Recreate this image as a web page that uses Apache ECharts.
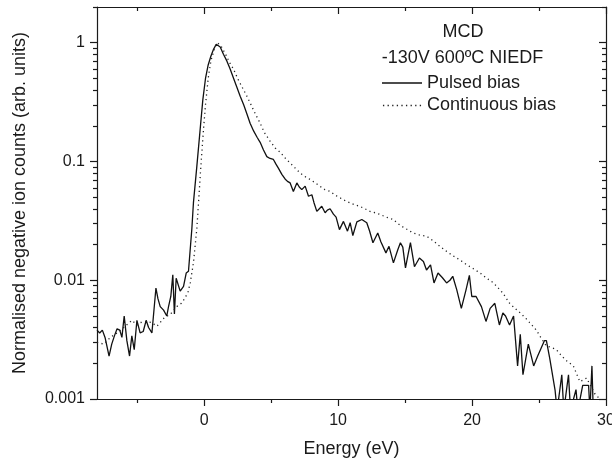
<!DOCTYPE html>
<html><head><meta charset="utf-8">
<script src="https://cdn.jsdelivr.net/npm/echarts@6/dist/echarts.min.js"></script>
<style>html,body{margin:0;padding:0;background:#fff}#c{width:612px;height:460px}</style>
</head><body><div id="c"></div>
<script>
// Pulsed bias (solid)
const pulsedE = [-8.0,-7.8,-7.6,-7.4,-7.1,-6.9,-6.7,-6.5,-6.3,-6.14,-5.97,-5.77,-5.57,-5.4,-5.22,-5.02,-4.78,-4.55,-4.33,-4.15,-3.9,-3.6,-3.45,-3.28,-3.03,-2.79,-2.66,-2.49,-2.34,-2.22,-2.09,-1.79,-1.54,-1.34,-1.17,-0.92,-0.8,-0.55,-0.3,-0.1,0.1,0.3,0.5,0.7,0.9,1.0,1.2,1.44,1.7,1.94,2.2,2.45,2.69,2.95,3.2,3.43,3.7,3.95,4.18,4.43,4.68,4.92,5.17,5.36,5.54,5.8,6.04,6.22,6.42,6.66,6.92,7.1,7.29,7.54,7.79,8.04,8.2,8.41,8.6,8.78,9.03,9.2,9.4,9.65,9.85,10.1,10.4,10.7,10.9,11.1,11.4,11.77,12.14,12.35,12.6,12.96,13.2,13.57,13.8,14.13,14.45,14.65,14.83,15.03,15.2,15.4,15.7,16.07,16.37,16.6,16.9,17.16,17.46,17.79,18.1,18.35,18.56,18.86,19.2,19.55,19.8,19.98,20.3,20.7,21.04,21.35,21.7,22.04,22.3,22.5,22.8,23.1,23.4,23.6,23.8,24.2,24.6,24.9,25.4,25.55,25.8,26.2,26.35,26.7,26.85,27.2,27.35,27.76,27.9,28.26,28.7,28.8,28.95,29.05];
const pulsedV = [0.0038,0.0036,0.0038,0.0033,0.0023,0.0029,0.0034,0.0039,0.0038,0.0033,0.0050,0.0031,0.0023,0.0034,0.0026,0.0046,0.0036,0.0037,0.0046,0.0040,0.0036,0.0086,0.0070,0.0060,0.0056,0.0050,0.0060,0.0073,0.0111,0.0052,0.0104,0.0081,0.0089,0.0115,0.0119,0.027,0.045,0.09,0.186,0.33,0.5,0.65,0.77,0.88,0.97,1.0,0.92,0.80,0.70,0.60,0.50,0.42,0.355,0.30,0.25,0.21,0.18,0.16,0.145,0.125,0.11,0.106,0.104,0.095,0.088,0.078,0.0713,0.068,0.066,0.056,0.066,0.061,0.058,0.062,0.051,0.0525,0.045,0.038,0.040,0.042,0.037,0.039,0.040,0.036,0.034,0.0267,0.0313,0.0259,0.0305,0.0238,0.031,0.0325,0.0305,0.026,0.0207,0.025,0.021,0.017,0.0193,0.014,0.018,0.0207,0.019,0.0127,0.016,0.0207,0.013,0.0154,0.0144,0.0122,0.0135,0.0095,0.0115,0.0105,0.0095,0.0100,0.0108,0.0083,0.0058,0.0083,0.011,0.0073,0.0073,0.0060,0.0045,0.0058,0.0064,0.0042,0.0053,0.0050,0.0042,0.0050,0.0019,0.0035,0.0016,0.0029,0.0019,0.0023,0.0031,0.0031,0.0022,0.00118,0.0008,0.0016,0.0008,0.0016,0.0008,0.0012,0.0008,0.0013,0.0013,0.0008,0.0019,0.0008];
// Continuous bias (dotted)
const contE = [-8.0,-7.5,-7.0,-6.5,-6.0,-5.4,-5.0,-4.78,-4.3,-3.9,-3.53,-3.0,-2.5,-2.04,-1.7,-1.42,-1.2,-1.04,-0.8,-0.55,-0.42,-0.25,-0.05,0.1,0.3,0.5,0.8,1.0,1.3,1.6,1.9,2.19,2.5,2.8,3.19,3.5,3.8,4.18,4.5,4.93,5.3,5.67,6.05,6.42,6.8,7.16,7.5,7.91,8.3,8.66,9.0,9.4,9.8,10.15,10.5,10.9,11.3,11.64,12.0,12.39,12.76,13.13,13.6,14.1,14.63,15.1,15.6,16.1,16.6,17.1,17.6,18.1,18.6,19.1,19.6,20.1,20.6,21.1,21.6,22.0,22.3,22.8,23.2,23.6,24.0,24.3,24.8,25.2,25.55,26.0,26.3,26.7,27.05,27.56,28.05,28.55,29.18,29.55,29.9];
const contV = [0.0030,0.0029,0.0033,0.0036,0.0040,0.0046,0.0042,0.0044,0.0045,0.0044,0.0041,0.0048,0.0052,0.0060,0.0064,0.0071,0.0080,0.0095,0.014,0.027,0.045,0.09,0.186,0.30,0.50,0.70,0.92,1.0,0.92,0.80,0.68,0.60,0.50,0.43,0.355,0.30,0.255,0.21,0.175,0.148,0.13,0.12,0.107,0.097,0.088,0.080,0.075,0.0706,0.066,0.0617,0.058,0.056,0.052,0.0494,0.047,0.0448,0.043,0.0418,0.040,0.038,0.037,0.0358,0.034,0.0325,0.0290,0.0270,0.0250,0.0240,0.0235,0.0215,0.0193,0.0175,0.0160,0.0148,0.0135,0.0125,0.0115,0.0104,0.0095,0.0085,0.0078,0.0064,0.0058,0.0053,0.0048,0.0044,0.0038,0.0032,0.0028,0.0027,0.0026,0.0023,0.0021,0.0019,0.0014,0.0015,0.0011,0.0010,0.00095];

const xMajor = [0, 10, 20, 30];
const xMinor = [-5, 5, 15, 25];
const yMajor = [0.001, 0.01, 0.1, 1];
const yMinor = [0.002,0.003,0.004,0.005,0.006,0.007,0.008,0.009,0.02,0.03,0.04,0.05,0.06,0.07,0.08,0.09,0.2,0.3,0.4,0.5,0.6,0.7,0.8,0.9,2];
const xMin = -8, xMax = 30, yMin = 0.001, yMax = 2;

const FONT = '"Liberation Sans", Arial, sans-serif';
const INK = '#1a1a1a';

function xAx(pos, ticks, len, inside, labels, line) {
  return {
    type: 'value', position: pos, min: xMin, max: xMax,
    axisLine: { show: line, onZero: false, lineStyle: { color: INK, width: 1.2 } },
    axisTick: { show: true, inside: inside, length: len, customValues: ticks, lineStyle: { color: INK, width: 1.2 } },
    axisLabel: labels ? { show: true, customValues: labels, margin: 14, fontSize: 16, fontFamily: FONT, color: INK } : { show: false },
    splitLine: { show: false }
  };
}
function yAx(pos, ticks, len, inside, labels, line) {
  return {
    type: 'log', logBase: 10, position: pos, min: yMin, max: yMax,
    axisLine: { show: line, onZero: false, lineStyle: { color: INK, width: 1.2 } },
    axisTick: { show: true, inside: inside, length: len, customValues: ticks, lineStyle: { color: INK, width: 1.2 } },
    axisLabel: labels ? { show: true, customValues: labels, margin: 12, fontSize: 16, fontFamily: FONT, color: INK,
      formatter: v => String(+(+v).toPrecision(3)) } : { show: false },
    splitLine: { show: false }
  };
}

const xAxes = [xAx('bottom', xMajor, 7, false, xMajor, true), xAx('bottom', xMinor, 4, false, null, false),
               xAx('top', xMajor, 7, true, null, true), xAx('top', xMinor, 4, true, null, false)];
xAxes[0].name = 'Energy (eV)';
xAxes[0].nameLocation = 'middle';
xAxes[0].nameGap = 41;
xAxes[0].nameTextStyle = { fontSize: 18, fontFamily: FONT, color: INK };

const yAxes = [yAx('left', yMajor, 7, false, yMajor, true), yAx('left', yMinor, 4, false, null, false),
               yAx('right', yMajor, 7, true, null, true), yAx('right', yMinor, 4, true, null, false)];
yAxes[0].name = 'Normalised negative ion counts (arb. units)';
yAxes[0].nameLocation = 'middle';
yAxes[0].nameGap = 68;
yAxes[0].nameTextStyle = { fontSize: 18, fontFamily: FONT, color: INK };

// dotted legend sample: small squares spaced like the dotted line
let dotPath = 'path://';
for (let x = 0; x <= 38.7; x += 4.6) dotPath += 'M' + x.toFixed(1) + ',0h1.3v1.3h-1.3z';

const chart = echarts.init(document.getElementById('c'), null, { renderer: 'canvas' });
chart.setOption({
  animation: false,
  backgroundColor: '#fff',
  grid: { left: 97, right: 6, top: 7, bottom: 61, containLabel: false, outerBoundsMode: 'none' },
  xAxis: xAxes,
  yAxis: yAxes,
  legend: {
    orient: 'vertical', left: 382, top: 74, padding: 0,
    itemWidth: 40, itemHeight: 1.3, itemGap: 4.5,
    textStyle: { fontSize: 18, fontFamily: FONT, color: INK },
    data: [{ name: 'Pulsed bias', icon: 'rect' }, { name: 'Continuous bias', icon: dotPath }]
  },
  graphic: [
    { type: 'text', style: { text: 'MCD', x: 463, y: 31.7, align: 'center', verticalAlign: 'middle', font: '18px ' + FONT, fill: INK } },
    { type: 'text', style: { text: '-130V 600ºC NIEDF', x: 462.5, y: 58.3, align: 'center', verticalAlign: 'middle', font: '18px ' + FONT, fill: INK } }
  ],
  series: [
    { name: 'Pulsed bias', type: 'line', xAxisIndex: 0, yAxisIndex: 0, symbol: 'none', showSymbol: false, clip: true,
      lineStyle: { color: '#111', width: 1.3 }, itemStyle: { color: '#111' },
      data: pulsedE.map((e, i) => [e, pulsedV[i]]) },
    { name: 'Continuous bias', type: 'line', xAxisIndex: 0, yAxisIndex: 0, symbol: 'none', showSymbol: false, clip: true,
      lineStyle: { color: '#222', width: 1.3, type: [1.2, 3.4] }, itemStyle: { color: '#222' },
      data: contE.map((e, i) => [e, contV[i]]) }
  ]
});
</script></body></html>
